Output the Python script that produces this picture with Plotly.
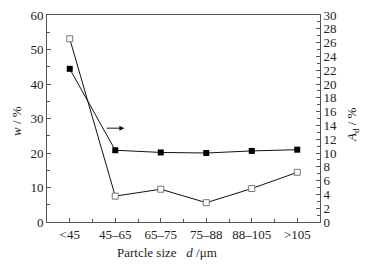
import plotly.graph_objects as go

categories = ["<45", "45–65", "65–75", "75–88", "88–105", ">105"]
w_values = [53.1, 7.5, 9.5, 5.6, 9.7, 14.4]
ad_values = [22.2, 10.4, 10.08, 10.0, 10.3, 10.48]
left_ticks = [0, 10, 20, 30, 40, 50, 60]
right_ticks = list(range(0, 31, 2))

idx = list(range(len(categories)))
font = dict(family="Liberation Serif", size=13, color="#222")
axcol = "#555"

fig = go.Figure()
fig.add_trace(go.Scatter(x=idx, y=w_values, mode="lines+markers",
                         line=dict(color="#111", width=1),
                         marker=dict(symbol="square", size=6, color="white",
                                     line=dict(color="#777", width=1)),
                         showlegend=False))
fig.add_trace(go.Scatter(x=idx, y=ad_values, yaxis="y2", mode="lines+markers",
                         line=dict(color="#111", width=1),
                         marker=dict(symbol="square", size=6, color="black"),
                         showlegend=False))

fig.update_layout(
    width=361, height=256,
    margin=dict(l=39, r=49, t=7, b=42, autoexpand=False),
    plot_bgcolor="white", paper_bgcolor="white",
    font=font,
    xaxis=dict(range=[-0.5, 5.5], tickvals=idx, ticktext=categories,
               showline=True, linecolor=axcol, linewidth=1, mirror=True,
               ticks="inside", ticklen=4, tickcolor=axcol, showgrid=False,
               zeroline=False, automargin=False, ticklabeloverflow="allow",
               minor=dict(tick0=0.5, dtick=1, ticks="inside", ticklen=3, tickcolor=axcol)),
    yaxis=dict(range=[0, 60], tickvals=left_ticks, showline=True, linecolor=axcol,
               linewidth=1, ticks="inside", ticklen=4, tickcolor=axcol,
               showgrid=False, zeroline=False, automargin=False,
               ticklabeloverflow="allow",
               minor=dict(dtick=5, ticks="inside", ticklen=3, tickcolor=axcol)),
    yaxis2=dict(range=[0, 30], tickvals=right_ticks, overlaying="y", side="right",
                showline=True, linecolor=axcol, linewidth=1, ticks="inside",
                ticklen=4, tickcolor=axcol, showgrid=False, zeroline=False,
                automargin=False, ticklabeloverflow="allow",
                minor=dict(dtick=1, ticks="inside", ticklen=3, tickcolor=axcol)),
)

fig.add_annotation(x=-0.112, y=0.49, xref="paper", yref="paper", text="<i>w</i> / %",
                   xanchor="center", yanchor="middle",
                   showarrow=False, textangle=-90, font=dict(size=13, color="#111"))
fig.add_annotation(x=1.117, y=0.473, xref="paper", yref="paper",
                   text="<i>A</i><sub>d</sub> / %", xanchor="center", yanchor="middle",
                   showarrow=False, textangle=-90, font=dict(size=13, color="#111"))
fig.add_annotation(x=0.44, y=-0.145, xref="paper", yref="paper",
                   text="Partcle size   <i>d</i> /μm", xanchor="center",
                   showarrow=False, yanchor="middle", font=dict(size=13))
# arrow pointing to right axis
fig.add_annotation(x=1.2, y=27.2, ax=0.78, ay=27.2, xref="x", yref="y",
                   axref="x", ayref="y", text="", showarrow=True,
                   arrowhead=2, arrowsize=1, arrowwidth=1, arrowcolor="#111")

fig.write_html("out.html")
